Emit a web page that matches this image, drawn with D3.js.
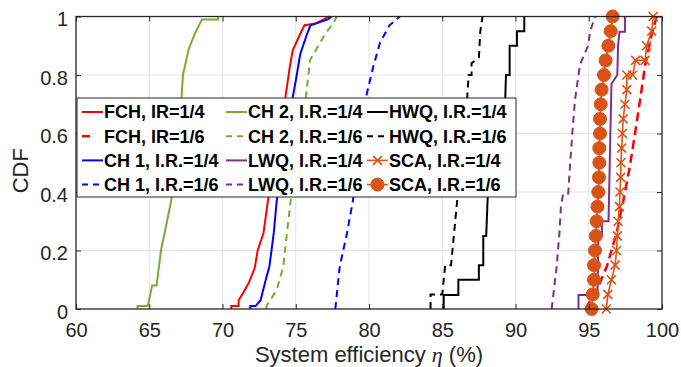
<!DOCTYPE html>
<html><head><meta charset="utf-8">
<script src="https://cdn.jsdelivr.net/npm/d3@7"></script>
<style>body{margin:0;background:#fff}svg{display:block}</style>
</head><body>
<svg id="c" width="681" height="367"></svg>
<script>
// ---- data (efficiency %, CDF) ----
const xTicks = [60,65,70,75,80,85,90,95,100];
const yTicks = [0,0.2,0.4,0.6,0.8,1];
const yTickLabels = ["0","0.2","0.4","0.6","0.8","1"];

const fch14 = [[70.6,0],[70.6,0.01],[71.1,0.01],[71.1,0.03],[71.4,0.054],[71.8,0.09],[72.2,0.14],[72.4,0.2],[72.8,0.26],[73.1,0.37],[74.3,0.726],[74.6,0.83],[74.8,0.885],[75.3,0.94],[75.6,0.97],[76.3,0.975],[76.9,0.99],[77.3,1]];
const fch16 = [[94.8,0],[95.0,0.02],[95.5,0.06],[96.23,0.145],[96.9,0.26],[97.36,0.37],[97.8,0.486],[98.16,0.6],[98.5,0.714],[98.84,0.83],[99.3,0.94],[99.64,1]];
const ch14 = [[71.9,0],[71.9,0.01],[72.25,0.01],[72.6,0.03],[72.9,0.09],[73.2,0.145],[73.5,0.26],[73.7,0.37],[74.8,0.726],[75.0,0.78],[75.3,0.87],[75.7,0.93],[76.0,0.97],[76.6,0.98],[77.2,0.99],[77.45,1]];
const ch16 = [[77.7,0],[78.0,0.145],[78.5,0.26],[78.9,0.37],[79.8,0.726],[80.3,0.83],[80.75,0.91],[81.4,0.97],[82.1,1]];
const ch24 = [[64.2,0],[64.2,0.01],[64.9,0.01],[65.2,0.08],[65.5,0.08],[65.8,0.2],[66.5,0.37],[67.2,0.72],[67.3,0.8],[67.7,0.89],[68.1,0.94],[68.6,0.99],[69.7,0.99],[69.7,1]];
const ch26 = [[73.0,0],[73.0,0.01],[73.7,0.065],[74.15,0.145],[74.4,0.26],[74.65,0.37],[75.7,0.726],[75.97,0.85],[77.0,0.94],[77.6,0.98],[77.8,1]];
const lwq14 = [[94.3,0],[94.3,0.048],[95.6,0.048],[95.65,0.25],[95.9,0.25],[95.9,0.3],[96.35,0.3],[96.45,0.54],[96.55,0.77],[96.95,0.8],[97.0,0.9],[97.1,0.948],[97.47,0.948],[97.47,1]];
const lwq16 = [[92.47,0],[92.81,0.145],[93.0,0.26],[93.1,0.35],[93.26,0.395],[93.6,0.395],[93.72,0.49],[93.88,0.6],[94.06,0.714],[94.4,0.835],[94.95,0.9],[95.1,0.95],[95.43,1]];
const hwq14 = [[85.1,0],[85.1,0.048],[86.1,0.048],[86.1,0.1],[87.5,0.1],[87.5,0.15],[87.8,0.15],[87.8,0.25],[88.0,0.25],[88.1,0.38],[89.3,0.72],[89.35,0.8],[89.6,0.8],[89.6,0.9],[90.1,0.9],[90.1,0.95],[90.6,0.95],[90.6,1]];
const hwq16 = [[84.2,0],[84.2,0.05],[85.0,0.05],[85.2,0.15],[85.6,0.15],[86.0,0.36],[86.7,0.72],[86.8,0.8],[87.0,0.8],[87.0,0.84],[87.5,0.86],[87.6,0.95],[87.75,1]];
const sca14 = [[96.2,0],[96.3,0.05],[96.55,0.1],[96.8,0.15],[96.9,0.2],[96.95,0.25],[97.0,0.3],[97.1,0.35],[97.13,0.4],[97.18,0.45],[97.2,0.5],[97.25,0.55],[97.3,0.6],[97.35,0.65],[97.47,0.7],[97.6,0.75],[97.6,0.8],[98.0,0.8],[98.2,0.85],[98.85,0.85],[98.95,0.9],[99.3,0.95],[99.4,1]];
const sca16 = [[95.2,0],[95.27,0.05],[95.36,0.1],[95.36,0.15],[95.43,0.2],[95.48,0.25],[95.54,0.3],[95.59,0.35],[95.65,0.4],[95.7,0.45],[95.72,0.5],[95.72,0.55],[95.77,0.6],[95.77,0.65],[95.82,0.7],[95.88,0.75],[96.04,0.8],[96.15,0.85],[96.34,0.9],[96.5,0.95],[96.63,1]];

const legendLabels = ["FCH, IR=1/4","FCH, IR=1/6","CH 1, I.R.=1/4","CH 1, I.R.=1/6",
  "CH 2, I.R.=1/4","CH 2, I.R.=1/6","LWQ, I.R.=1/4","LWQ, I.R.=1/6",
  "HWQ, I.R.=1/4","HWQ, I.R.=1/6","SCA, I.R.=1/4","SCA, I.R.=1/6"];

// ---- styles ----
const RED="#FF0000", BLUE="#0000FF", GREEN="#77AC30", PURPLE="#7E2F8E", BLACK="#000000", ORANGE="#D95319";
const series = [
  {data:fch14, color:RED,    w:2,   dash:null,  ldash:null},
  {data:fch16, color:RED,    w:2.5, dash:"9,5", ldash:"8,14"},
  {data:ch14,  color:BLUE,   w:2,   dash:null,  ldash:null},
  {data:ch16,  color:BLUE,   w:2,   dash:"7,5", ldash:"6,5"},
  {data:ch24,  color:GREEN,  w:2,   dash:null,  ldash:null},
  {data:ch26,  color:GREEN,  w:2,   dash:"7,5", ldash:"6,5"},
  {data:lwq14, color:PURPLE, w:2,   dash:null,  ldash:null},
  {data:lwq16, color:PURPLE, w:2,   dash:"7,5", ldash:"6,5"},
  {data:hwq14, color:BLACK,  w:2,   dash:null,  ldash:null},
  {data:hwq16, color:BLACK,  w:2,   dash:"7,5", ldash:"6,5"},
  {data:sca14, color:ORANGE, w:1.6, dash:null,  ldash:null, marker:"x"},
  {data:sca16, color:ORANGE, w:1.6, dash:null,  ldash:null, marker:"o"}
];

const svg = d3.select("#c");
const L=76, R=662, T=16.5, B=309;
const x = d3.scaleLinear().domain([60,100]).range([L,R]);
const y = d3.scaleLinear().domain([0,1]).range([B,T]);
const FONT = "'Liberation Sans', Arial, Helvetica, sans-serif";
const AX = "#262626";

// grid
const g = svg.append("g");
g.selectAll(".gx").data(xTicks.slice(1,-1)).enter().append("line")
  .attr("x1",d=>x(d)).attr("x2",d=>x(d)).attr("y1",T).attr("y2",B)
  .attr("stroke","#e3e3e3").attr("stroke-width",1);
g.selectAll(".gy").data(yTicks.slice(1,-1)).enter().append("line")
  .attr("x1",L).attr("x2",R).attr("y1",d=>y(d)).attr("y2",d=>y(d))
  .attr("stroke","#e3e3e3").attr("stroke-width",1);

// series
const line = d3.line().x(d=>x(d[0])).y(d=>y(d[1]));
const clip = svg.append("clipPath").attr("id","pc").append("rect")
  .attr("x",L-8).attr("y",T-8).attr("width",R-L+16).attr("height",B-T+16);
const pg = svg.append("g").attr("clip-path","url(#pc)");
function drawMarker(sel, type, color, cx, cy){
  if(type==="x"){
    const s=4.5;
    sel.append("path").attr("d",`M${cx-s},${cy-s}L${cx+s},${cy+s}M${cx-s},${cy+s}L${cx+s},${cy-s}`)
      .attr("stroke",color).attr("stroke-width",1.6).attr("fill","none");
  } else if(type==="o"){
    sel.append("circle").attr("cx",cx).attr("cy",cy).attr("r",6.5).attr("fill",color).attr("stroke",color);
  }
}
series.forEach(s=>{
  pg.append("path").datum(s.data).attr("d",line).attr("fill","none")
    .attr("stroke",s.color).attr("stroke-width",s.w)
    .attr("stroke-dasharray",s.dash).attr("stroke-linejoin","miter");
  if(s.marker){
    s.data.forEach(d=>drawMarker(pg, s.marker, s.color, x(d[0]), y(d[1])));
  }
});

// axes
const xa = svg.append("g").attr("transform",`translate(0,${B})`)
  .call(d3.axisBottom(x).tickValues(xTicks).tickSize(-5).tickPadding(13.8).tickFormat(d3.format("d")));
const xt = svg.append("g").attr("transform",`translate(0,${T})`)
  .call(d3.axisTop(x).tickValues(xTicks).tickSize(-5).tickFormat(""));
const ya = svg.append("g").attr("transform",`translate(${L},0)`)
  .call(d3.axisLeft(y).tickValues(yTicks).tickSize(-5).tickPadding(8).tickFormat((d,i)=>yTickLabels[i]));
const yr = svg.append("g").attr("transform",`translate(${R},0)`)
  .call(d3.axisRight(y).tickValues(yTicks).tickSize(-5).tickFormat(""));
[xa,xt,ya,yr].forEach(a=>{
  a.select(".domain").remove();
  a.selectAll(".tick line").attr("stroke",AX).attr("stroke-width",1);
  a.selectAll("text").attr("font-family",FONT).attr("font-size",20).attr("fill",AX);
});
ya.selectAll("text").attr("dy","0.46em");
svg.append("rect").attr("x",L).attr("y",T).attr("width",R-L).attr("height",B-T)
  .attr("fill","none").attr("stroke",AX).attr("stroke-width",1.3);

// axis labels
svg.append("text").attr("x",(L+R)/2).attr("y",361.5).attr("text-anchor","middle")
  .attr("font-family",FONT).attr("font-size",22).attr("fill",AX)
  .call(t=>{
    t.append("tspan").text("System efficiency ");
    t.append("tspan").attr("font-family","'Liberation Serif','Times New Roman',serif").attr("font-style","italic").text("η");
    t.append("tspan").text(" (%)");
  });
svg.append("text").attr("transform",`translate(28,${(T+B)/2+8}) rotate(-90)`).attr("text-anchor","middle")
  .attr("font-family",FONT).attr("font-size",22).attr("fill",AX).text("CDF");

// legend
const lg = svg.append("g");
lg.append("rect").attr("x",77).attr("y",98).attr("width",439).attr("height",99)
  .attr("fill","#fff").attr("stroke",AX).attr("stroke-width",1);
const colX = [82,226,367], rowY0 = 112, rowDY = 24.2;
series.forEach((s,i)=>{
  const cx = colX[Math.floor(i/4)], cy = rowY0 + (i%4)*rowDY;
  lg.append("line").attr("x1",cx).attr("x2",cx+21).attr("y1",cy).attr("y2",cy)
    .attr("stroke",s.color).attr("stroke-width",s.w).attr("stroke-dasharray",s.ldash);
  if(s.marker) drawMarker(lg, s.marker, s.color, cx+10.5, cy);
  lg.append("text").attr("x",cx+22).attr("y",cy+6.3)
    .attr("font-family",FONT).attr("font-size",18).attr("font-weight","bold").attr("fill","#000")
    .text(legendLabels[i]);
});
</script>
</body></html>
